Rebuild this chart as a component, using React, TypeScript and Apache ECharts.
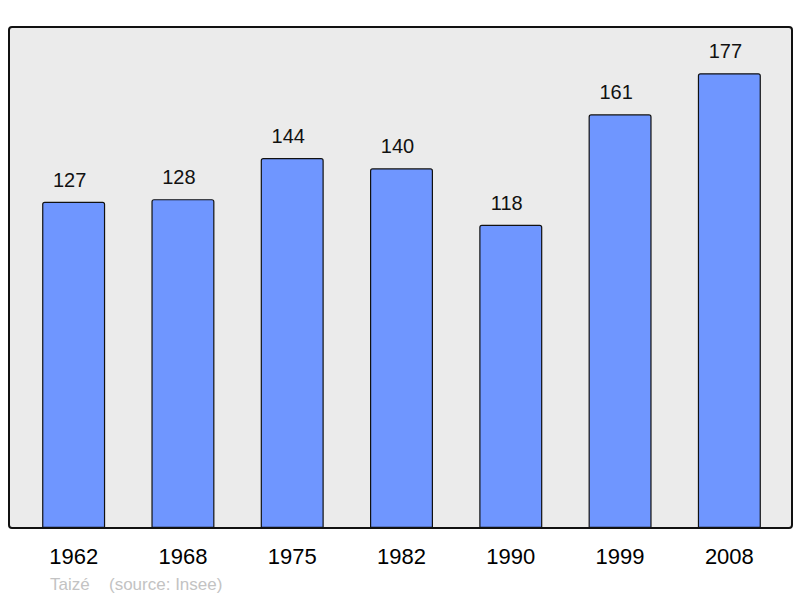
import { useEffect, useRef } from 'react'
import * as echarts from 'echarts'

const years = ['1962', '1968', '1975', '1982', '1990', '1999', '2008']
const population = [127, 128, 144, 140, 118, 161, 177]
const townName = 'Taizé'
const sourceText = '(source: Insee)'

export default function App(): JSX.Element {
  const chartRef = useRef<HTMLDivElement>(null)

  useEffect(() => {
    if (!chartRef.current) return
    const chart = echarts.init(chartRef.current, null, { renderer: 'svg' })

    const font = 'Liberation Sans, Arial, sans-serif'

    const option: echarts.EChartsOption = {
      animation: false,
      textStyle: { fontFamily: font },
      grid: { left: 19, right: 16, top: 27, bottom: 70 },
      xAxis: {
        type: 'category',
        data: years,
        axisLine: { show: false },
        axisTick: { show: false },
        axisLabel: { color: '#000', fontSize: 22, margin: 17 }
      },
      yAxis: {
        type: 'value',
        min: 0,
        max: 195,
        show: false
      },
      graphic: [
        {
          type: 'rect',
          z: -10,
          silent: true,
          shape: { x: 9, y: 27, width: 783, height: 501, r: 3 },
          style: { fill: '#ebebeb', stroke: 'none' }
        },
        {
          type: 'rect',
          z: 100,
          silent: true,
          shape: { x: 9, y: 27, width: 783, height: 501, r: 3 },
          style: { fill: 'none', stroke: '#111', lineWidth: 2 }
        },
        {
          type: 'text',
          x: 50,
          y: 576,
          style: { text: townName, fill: '#c3c3c3', fontSize: 17, fontFamily: font }
        },
        {
          type: 'text',
          x: 109,
          y: 576,
          style: { text: sourceText, fill: '#c3c3c3', fontSize: 17, fontFamily: font }
        }
      ],
      series: [
        {
          type: 'bar',
          data: population,
          barWidth: 63,
          itemStyle: {
            color: '#6f96ff',
            borderColor: '#111',
            borderWidth: 1.2,
            borderRadius: [2, 2, 0, 0]
          },
          label: {
            show: true,
            position: 'top',
            distance: 12,
            offset: [-4, 0],
            color: '#111',
            fontSize: 20
          }
        }
      ]
    }

    chart.setOption(option)
    return () => {
      chart.dispose()
    }
  }, [])

  return (
    <div
      ref={chartRef}
      style={{ position: 'fixed', left: 0, top: 0, width: 800, height: 598, background: '#fff' }}
    />
  )
}
